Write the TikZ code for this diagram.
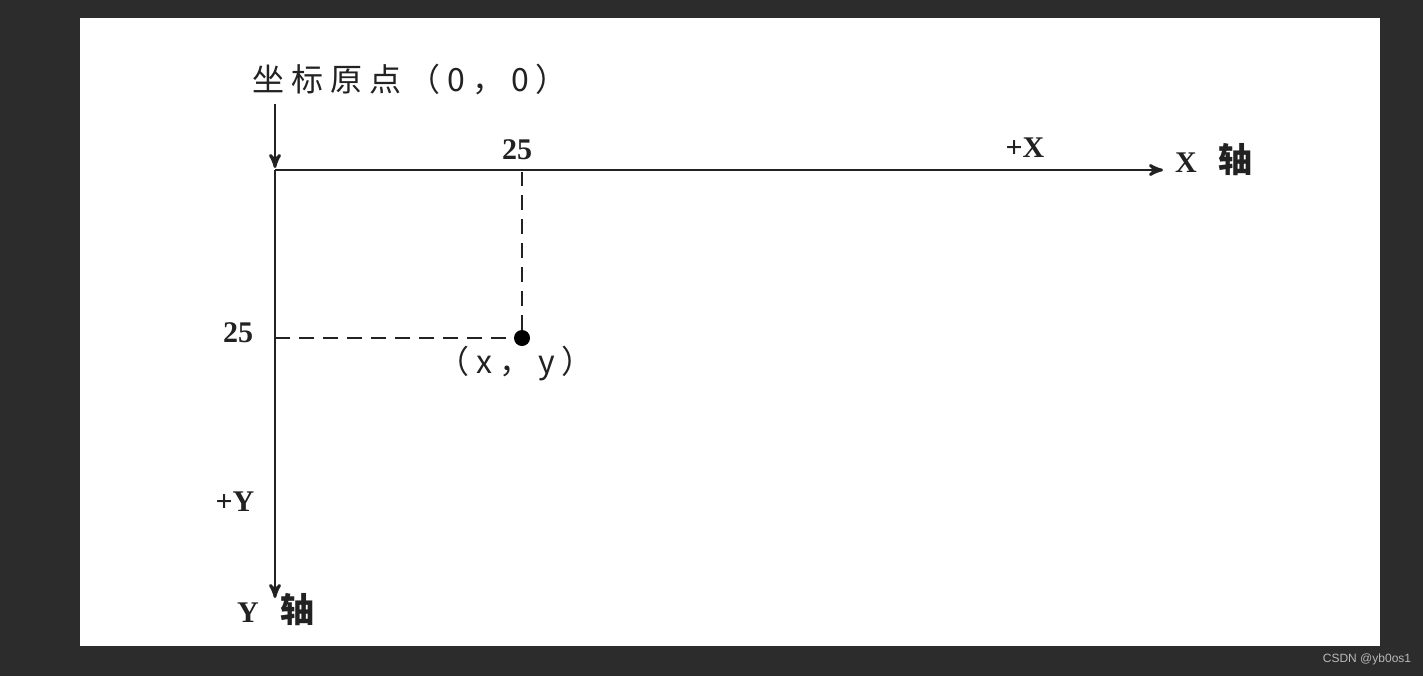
\documentclass[tikz,border=0pt]{standalone}
\usepackage{fontspec}
\setmainfont{Liberation Serif}
\setsansfont{Liberation Sans}
\newfontfamily\cjk{Noto Sans CJK SC}
\newfontfamily\cjkwide[LetterSpace=22]{Noto Sans CJK SC}
\usetikzlibrary{arrows,positioning}
\definecolor{board}{RGB}{44,44,44}
\definecolor{ink}{RGB}{34,34,34}

\begin{document}
\begin{tikzpicture}[x=0.5pt,y=-0.5pt,>=stealth',shorten >=1pt,
  axis/.style={->,draw=ink,line width=1.4pt},
  guide/.style={draw=ink,line width=1.4pt,dash pattern=on 7.5pt off 4.5pt},
  lbl/.style={font=\fontsize{15}{15}\selectfont\bfseries,text=ink},
  cjk lbl/.style={font=\cjkwide\fontsize{16}{16}\selectfont,text=ink}]
  \fill[board] (0,0) rectangle (1423,676);
  \fill[white] (80,18) rectangle (1380,646);
  \useasboundingbox (0,0) rectangle (1423,676);

  \coordinate (O) at (275,170);
  \coordinate (top) at (275,104);
  \coordinate (xend) at (1165,170);
  \coordinate (yend) at (275,600);
  \node[circle,fill=black,inner sep=0,minimum size=8pt] (P) at (522,338) {};

  \node[cjk lbl,anchor=west] (origin) at (245,80) {坐标原点（0，0）};
  \node[lbl] (xtick) at (517,150) {25};
  \node[lbl] (ytick) at (238,333) {25};
  \node[cjk lbl,anchor=west] (pt) at (430,364) {（x，y）};
  \node[lbl] (plusx) at (1025,148) {+X};
  \node[lbl,anchor=west] (xname) at (1168,160) {X\hspace{11pt}{\cjk\fontsize{17}{17}\selectfont 轴}};
  \node[lbl] (plusy) at (235,502) {+Y};
  \node[lbl,anchor=west] (yname) at (230,610) {Y\hspace{11pt}{\cjk\fontsize{17}{17}\selectfont 轴}};
  \node[font=\sffamily\fontsize{6}{6}\selectfont,text=gray!55] (mark) at (1367,659) {CSDN @yb0os1};

  \draw[axis] (top) -- (O);
  \draw[axis] (O) -- (xend);
  \draw[axis] (O) -- (yend);
  \draw[guide] (O |- P) -- (P);
  \draw[guide] (P) -- (P |- O);
\end{tikzpicture}
\end{document}
